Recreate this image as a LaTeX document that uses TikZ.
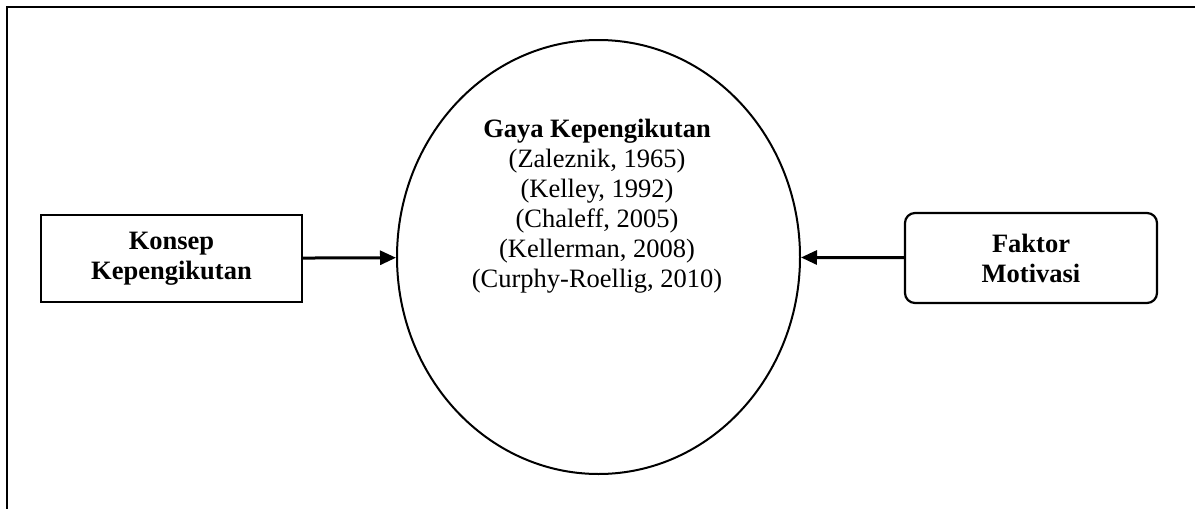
\documentclass[tikz,border=0pt]{standalone}
\usepackage{fontspec}
\setmainfont{Liberation Serif}
\usetikzlibrary{shapes.geometric,arrows.meta}
\begin{document}
\begin{tikzpicture}[x=1pt,y=-1pt,
  txt/.style={font=\fontsize{26.5}{30}\selectfont, align=center, inner sep=0pt},
  boxa/.style={draw, line width=2.2pt, minimum width=261pt, minimum height=87pt, inner sep=0pt,
     font=\fontsize{26.5}{30}\selectfont\bfseries, align=center},
  boxb/.style={boxa, rounded corners=10pt, minimum width=252pt, minimum height=90pt},
  conn/.style={line width=3pt, -{Triangle[length=16pt,width=14pt]}},
  frame/.style={line width=2.6pt}]
\useasboundingbox (0,0) rectangle (1195,509);
\coordinate (fr1) at (7,509);
\coordinate (fr2) at (7,7);
\coordinate (fr3) at (1195,7);
\draw[frame] (fr1) -- (fr2) -- (fr3);
\node[draw, ellipse, line width=2pt, minimum width=403pt, minimum height=434pt, inner sep=0pt] (ell) at (598.5,257) {};
\node[txt] (gaya) at (597,206) {\textbf{Gaya Kepengikutan}\\(Zaleznik, 1965)\\(Kelley, 1992)\\(Chaleff, 2005)\\(Kellerman, 2008)\\(Curphy-Roellig, 2010)};
\node[boxa] (konsep) at (171.5,258.5) {Konsep\\Kepengikutan};
\node[boxb] (faktor) at (1031,258) {Faktor\\Motivasi};
\draw[conn] (konsep) -- (ell);
\draw[conn] (faktor) -- (ell);
\end{tikzpicture}
\end{document}
